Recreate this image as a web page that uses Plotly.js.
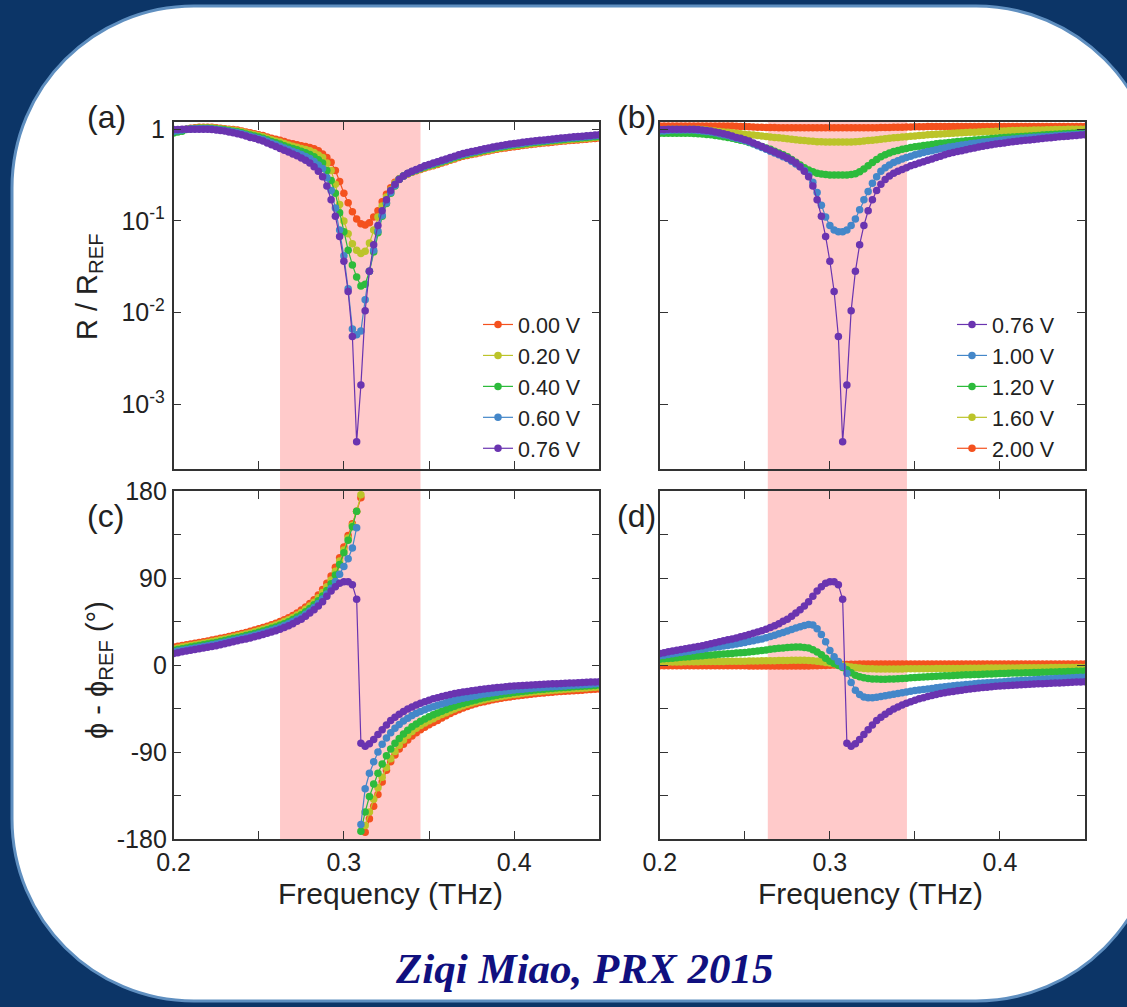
<!DOCTYPE html>
<html><head><meta charset="utf-8">
<script src="https://cdn.plot.ly/plotly-3.0.1.min.js"></script>
<style>html,body{margin:0;padding:0;background:#0c3567;}#chart{width:1127px;height:1007px;}</style>
</head><body><div id="chart"></div>
<script>
// ---------------- DATA ----------------
const freq = [0.2,0.2025,0.205,0.2075,0.21,0.2125,0.215,0.2175,0.22,0.2225,0.225,0.2275,0.23,0.2325,0.235,0.2375,0.24,0.2425,0.245,0.2475,0.25,0.2525,0.255,0.2575,0.26,0.2625,0.265,0.2675,0.27,0.2725,0.275,0.2775,0.28,0.2825,0.285,0.2875,0.29,0.2925,0.295,0.2975,0.3,0.3025,0.305,0.3075,0.31,0.3125,0.315,0.3175,0.32,0.3225,0.325,0.3275,0.33,0.3325,0.335,0.3375,0.34,0.3425,0.345,0.3475,0.35,0.3525,0.355,0.3575,0.36,0.3625,0.365,0.3675,0.37,0.3725,0.375,0.3775,0.38,0.3825,0.385,0.3875,0.39,0.3925,0.395,0.3975,0.4,0.4025,0.405,0.4075,0.41,0.4125,0.415,0.4175,0.42,0.4225,0.425,0.4275,0.43,0.4325,0.435,0.4375,0.44,0.4425,0.445,0.4475,0.45];

const labelsA = ['0.00 V','0.20 V','0.40 V','0.60 V','0.76 V'];
const labelsB = ['0.76 V','1.00 V','1.20 V','1.60 V','2.00 V'];
const xTickVals = [0.2,0.25,0.3,0.35,0.4,0.45];
const xTickText = ['0.2','','0.3','','0.4',''];
const rTickVals = [0.001,0.01,0.1,1];
const rTickText = ['10<sup>-3</sup>','10<sup>-2</sup>','10<sup>-1</sup>','1'];
const pTickVals = [-180,-135,-90,-45,0,45,90,135,180];
const pTickText = ['-180','','-90','','0','','90','','180'];
const shadeA = [0.2625,0.345];
const shadeB = [0.2635,0.3453];

// R / R_REF
const R_000 = [0.933,0.955,0.977,1.0,1.023,1.035,1.047,1.047,1.047,1.047,
1.035,1.023,1.012,1.0,0.989,0.977,0.955,0.933,0.912,0.891,
0.871,0.851,0.822,0.794,0.776,0.759,0.733,0.708,0.692,0.676,
0.661,0.646,0.631,0.610,0.582,0.537,0.490,0.437,0.355,0.269,
0.200,0.158,0.126,0.105,0.0933,0.0902,0.0955,0.110,0.129,0.162,
0.195,0.229,0.263,0.288,0.309,0.324,0.339,0.351,0.363,0.376,
0.389,0.398,0.412,0.427,0.442,0.457,0.473,0.490,0.505,0.516,
0.528,0.541,0.553,0.566,0.579,0.592,0.604,0.614,0.624,0.634,
0.644,0.653,0.662,0.671,0.681,0.689,0.697,0.705,0.713,0.721,
0.729,0.736,0.743,0.750,0.757,0.764,0.771,0.778,0.785,0.792,
0.800];
const R_020 = [0.94,0.955,0.97,1.0,1.017,1.026,1.035,1.035,1.035,1.033,
1.021,1.009,0.998,0.983,0.970,0.956,0.934,0.910,0.887,0.867,
0.845,0.824,0.794,0.765,0.744,0.724,0.697,0.672,0.653,0.635,
0.617,0.599,0.580,0.555,0.523,0.490,0.427,0.355,0.251,0.151,
0.100,0.0724,0.0562,0.0479,0.0442,0.0468,0.0575,0.0794,0.110,0.145,
0.182,0.219,0.257,0.287,0.309,0.326,0.341,0.354,0.367,0.382,
0.395,0.405,0.420,0.435,0.450,0.465,0.482,0.499,0.515,0.526,
0.538,0.551,0.564,0.577,0.590,0.604,0.616,0.627,0.637,0.647,
0.658,0.667,0.676,0.685,0.695,0.703,0.712,0.720,0.728,0.736,
0.745,0.752,0.759,0.767,0.774,0.781,0.788,0.795,0.803,0.810,
0.818];
const R_040 = [0.91,0.93,0.95,0.99,1.012,1.018,1.024,1.024,1.024,1.018,
1.006,0.995,0.984,0.967,0.951,0.934,0.913,0.887,0.863,0.843,
0.819,0.796,0.765,0.735,0.711,0.688,0.661,0.635,0.615,0.595,
0.573,0.552,0.529,0.500,0.465,0.427,0.355,0.275,0.200,0.123,
0.0759,0.0479,0.0331,0.0245,0.0195,0.0204,0.0282,0.0457,0.0741,0.112,
0.155,0.200,0.240,0.285,0.309,0.328,0.343,0.357,0.372,0.387,
0.401,0.413,0.427,0.442,0.458,0.474,0.490,0.508,0.524,0.536,
0.549,0.562,0.575,0.588,0.602,0.615,0.629,0.639,0.650,0.661,
0.671,0.681,0.690,0.700,0.710,0.718,0.726,0.735,0.743,0.752,
0.760,0.768,0.775,0.784,0.791,0.798,0.805,0.813,0.820,0.828,
0.836];
const R_060 = [0.95,0.96,0.98,1.0,1.006,1.009,1.012,1.012,1.012,1.004,
0.992,0.980,0.969,0.950,0.931,0.913,0.892,0.864,0.838,0.818,
0.793,0.769,0.737,0.706,0.679,0.653,0.625,0.599,0.576,0.554,
0.528,0.504,0.478,0.444,0.406,0.372,0.295,0.214,0.138,0.0794,
0.0417,0.0182,0.00661,0.00575,0.00631,0.0138,0.0282,0.0479,0.0776,0.115,
0.158,0.204,0.243,0.284,0.309,0.329,0.345,0.360,0.376,0.393,
0.406,0.420,0.435,0.450,0.465,0.482,0.499,0.516,0.534,0.546,
0.559,0.572,0.585,0.599,0.613,0.627,0.641,0.652,0.663,0.674,
0.685,0.694,0.704,0.714,0.724,0.732,0.741,0.749,0.758,0.767,
0.776,0.784,0.791,0.800,0.807,0.815,0.822,0.830,0.838,0.845,
0.853];
const R_076 = [0.989,0.989,1.0,1.0,1.0,1.0,1.0,1.0,1.0,0.989,
0.977,0.966,0.955,0.933,0.912,0.891,0.871,0.841,0.813,0.794,
0.767,0.741,0.708,0.676,0.646,0.617,0.589,0.562,0.537,0.513,
0.484,0.457,0.427,0.389,0.347,0.302,0.240,0.170,0.112,0.0676,
0.0363,0.0170,0.0055,0.00039,0.00162,0.0105,0.0282,0.0550,0.0891,0.129,
0.170,0.214,0.251,0.282,0.309,0.331,0.347,0.363,0.380,0.398,
0.412,0.427,0.442,0.457,0.473,0.490,0.507,0.525,0.543,0.556,
0.569,0.582,0.596,0.610,0.624,0.638,0.653,0.664,0.676,0.687,
0.698,0.708,0.718,0.728,0.738,0.746,0.755,0.764,0.773,0.782,
0.791,0.800,0.807,0.817,0.824,0.832,0.839,0.847,0.855,0.863,
0.871];
const R_100 = [0.955,0.955,0.966,0.977,0.977,0.977,0.977,0.977,0.977,0.966,
0.955,0.944,0.933,0.912,0.891,0.871,0.851,0.822,0.794,0.776,
0.750,0.724,0.692,0.661,0.631,0.603,0.575,0.550,0.525,0.501,
0.479,0.447,0.417,0.389,0.355,0.316,0.263,0.204,0.148,0.110,
0.0891,0.0794,0.0759,0.0759,0.0794,0.0891,0.105,0.132,0.170,0.209,
0.257,0.302,0.347,0.380,0.407,0.432,0.452,0.473,0.490,0.507,
0.525,0.540,0.555,0.569,0.583,0.597,0.611,0.624,0.637,0.649,
0.661,0.671,0.682,0.693,0.703,0.713,0.723,0.731,0.740,0.748,
0.757,0.766,0.773,0.780,0.787,0.794,0.802,0.809,0.817,0.822,
0.828,0.834,0.839,0.845,0.851,0.857,0.863,0.869,0.875,0.881,
0.887];
const R_120 = [0.902,0.902,0.902,0.902,0.902,0.902,0.902,0.902,0.897,0.891,
0.885,0.877,0.867,0.855,0.841,0.828,0.813,0.794,0.776,0.759,
0.741,0.716,0.692,0.668,0.646,0.624,0.603,0.575,0.550,0.525,
0.501,0.468,0.437,0.407,0.380,0.359,0.343,0.331,0.324,0.320,
0.316,0.316,0.316,0.316,0.316,0.320,0.327,0.343,0.367,0.398,
0.432,0.468,0.501,0.525,0.550,0.569,0.586,0.603,0.617,0.631,
0.643,0.653,0.664,0.673,0.682,0.692,0.700,0.708,0.716,0.724,
0.733,0.740,0.746,0.753,0.760,0.767,0.774,0.782,0.789,0.796,
0.804,0.809,0.815,0.820,0.826,0.832,0.838,0.843,0.849,0.855,
0.861,0.867,0.873,0.879,0.885,0.891,0.897,0.904,0.910,0.916,
0.923];
const R_160 = [0.989,0.989,1.0,1.0,1.0,1.0,1.0,1.0,1.0,1.0,
0.989,0.977,0.966,0.955,0.944,0.933,0.923,0.912,0.902,0.891,
0.881,0.871,0.861,0.851,0.841,0.832,0.822,0.813,0.804,0.794,
0.785,0.776,0.767,0.759,0.750,0.741,0.736,0.731,0.728,0.724,
0.724,0.724,0.724,0.724,0.724,0.724,0.728,0.733,0.741,0.750,
0.759,0.767,0.776,0.785,0.794,0.804,0.813,0.820,0.828,0.836,
0.843,0.851,0.859,0.867,0.873,0.879,0.885,0.891,0.897,0.904,
0.910,0.914,0.918,0.923,0.927,0.931,0.935,0.940,0.944,0.948,
0.953,0.957,0.962,0.966,0.968,0.971,0.973,0.975,0.977,0.979,
0.982,0.984,0.986,0.989,0.991,0.993,0.995,0.998,1.0,1.0,
1.0];
const R_200 = [1.084,1.084,1.084,1.084,1.084,1.084,1.084,1.084,1.084,1.084,
1.084,1.084,1.084,1.084,1.084,1.084,1.084,1.081,1.076,1.072,
1.067,1.062,1.057,1.052,1.047,1.045,1.042,1.040,1.038,1.035,
1.035,1.035,1.035,1.035,1.035,1.035,1.035,1.035,1.035,1.035,
1.035,1.035,1.035,1.035,1.035,1.035,1.035,1.035,1.035,1.035,
1.035,1.038,1.040,1.042,1.045,1.047,1.050,1.052,1.054,1.057,
1.059,1.062,1.064,1.067,1.072,1.072,1.072,1.072,1.072,1.072,
1.072,1.072,1.072,1.072,1.072,1.072,1.072,1.072,1.072,1.072,
1.072,1.072,1.072,1.072,1.072,1.072,1.072,1.072,1.072,1.072,
1.072,1.072,1.072,1.072,1.072,1.072,1.072,1.072,1.072,1.072,
1.072];

// phase (deg)
const P_000 = [18.5,19.3,20.1,20.9,21.7,22.5,23.3,24.1,24.9,25.8,
26.7,27.6,28.5,29.5,30.5,31.5,32.6,33.7,34.9,36.1,
37.4,38.7,40.1,41.6,43.2,45,46.9,49,51.3,53.9,
56.8,60,63.5,67.6,72.4,78,84.5,92,101,111,
122,134,146,159,173,-173,-159,-146,-134,-121,
-109,-100,-93,-87,-82,-77.5,-73.5,-70,-67,-64.3,
-61.8,-59.5,-57.3,-54.8,-52.5,-50.3,-48.2,-46.3,-44.5,-42.9,
-41.4,-40,-38.9,-37.9,-36.9,-36,-35.2,-34.4,-33.7,-33,
-32.4,-31.8,-31.2,-30.7,-30.2,-29.7,-29.3,-28.9,-28.5,-28.1,
-27.8,-27.5,-27.2,-26.9,-26.6,-26.3,-26,-25.7,-25.4,-25.1,
-24.8];
const P_020 = [16.9,17.7,18.5,19.3,20.1,20.9,21.7,22.5,23.3,24.2,
25,26,26.9,27.9,28.9,29.9,31,32,33.2,34.4,
35.6,36.9,38.3,39.7,41.3,43,44.9,46.9,49.2,51.7,
54.4,57.6,61.1,65,69.6,74.9,81,88,97,107.5,
119,131.5,144.5,159,176,-166,-152,-139,-127,-116,
-106,-97,-89.5,-83,-77.5,-72.7,-68.7,-65.5,-62.6,-60,
-57.6,-55.5,-53.4,-51.3,-49.3,-47.3,-45.5,-43.8,-42.2,-40.7,
-39.4,-38.1,-37,-36,-35,-34.1,-33.3,-32.5,-31.8,-31.1,
-30.5,-29.9,-29.3,-28.8,-28.3,-27.8,-27.4,-27,-26.6,-26.2,
-25.8,-25.5,-25.2,-24.9,-24.6,-24.3,-24,-23.7,-23.4,-23.1,
-22.8];
const P_040 = [15.3,16.1,16.9,17.7,18.5,19.3,20.1,20.9,21.7,22.5,
23.4,24.3,25.3,26.3,27.3,28.3,29.3,30.4,31.5,32.6,
33.9,35.1,36.5,37.9,39.4,41,42.8,44.8,47.1,49.6,
52,55,58.5,62.3,66.5,71.3,77,84,93,104,
116,129,143,159,-172,-152,-136,-123,-112,-102.5,
-94,-87,-81,-76,-71.5,-67.5,-64,-61,-58.3,-55.8,
-53.5,-51.5,-49.6,-47.8,-46,-44.3,-42.7,-41.2,-39.8,-38.5,
-37.3,-36.1,-35,-34,-33,-32.1,-31.3,-30.5,-29.8,-29.1,
-28.5,-27.9,-27.3,-26.8,-26.3,-25.8,-25.4,-25,-24.6,-24.2,
-23.8,-23.5,-23.2,-22.9,-22.6,-22.3,-22,-21.7,-21.4,-21.1,
-20.8];
const P_060 = [13.6,14.4,15.2,16,16.8,17.6,18.4,19.2,20,20.9,
21.7,22.7,23.6,24.6,25.6,26.6,27.7,28.7,29.7,30.9,
32.1,33.3,34.6,36,37.4,39,40.8,42.7,44.9,47.4,
49.5,52.5,55.8,59.5,63.6,68.2,73.5,79.5,86.5,94,
102,110,121,142,-165,-128,-112,-100,-90,-82,
-75.5,-70,-65.5,-61.5,-58,-55,-52.3,-50,-48,-46.2,
-44.6,-43.1,-41.7,-40.3,-39,-37.8,-36.6,-35.5,-34.5,-33.5,
-32.6,-31.7,-30.9,-30.1,-29.4,-28.7,-28.1,-27.5,-26.9,-26.4,
-25.9,-25.4,-25,-24.6,-24.2,-23.8,-23.5,-23.1,-22.8,-22.5,
-22.2,-21.9,-21.6,-21.3,-21,-20.7,-20.4,-20.1,-19.8,-19.5,
-19.2];
const P_076 = [12,12.8,13.6,14.4,15.2,16,16.8,17.6,18.4,19.2,
20,21,22,23,24,25,26,27,28,29.1,
30.3,31.5,32.8,34.1,35.5,37,38.7,40.6,42.8,45.2,
47.3,50.4,53.7,57.2,61,65.5,71,76.5,81,84.5,
86,86,83,68,-81,-84,-81.5,-77,-72,-67,
-62,-57.5,-54,-51,-48,-45.5,-43.5,-41.5,-39.5,-38,
-36.5,-35,-33.8,-32.6,-31.5,-30.5,-29.6,-28.8,-28,-27.3,
-26.6,-26,-25.4,-24.8,-24.3,-23.8,-23.3,-22.9,-22.5,-22.1,
-21.8,-21.5,-21.2,-20.9,-20.6,-20.4,-20.1,-19.9,-19.7,-19.5,
-19.3,-19.1,-18.9,-18.7,-18.5,-18.3,-18.1,-17.9,-17.7,-17.5,
-17.3];
const P_100 = [9.5,10.2,10.9,11.6,12.3,13,13.6,14.3,15,15.7,
16.4,17.1,17.8,18.4,19,19.7,20.3,21,21.7,22.5,
23.3,24.2,25.1,26,27,28.2,29.5,30.9,32.3,33.7,
35.2,36.7,38.2,39.6,40.8,41.8,41.5,37.5,31.5,24,
15,8.5,3.5,-1.5,-8.5,-18,-26,-30.5,-33,-33.8,
-33.8,-33.3,-32.6,-31.9,-31.1,-30.3,-29.5,-28.7,-27.9,-27.2,
-26.5,-25.9,-25.3,-24.7,-24.2,-23.6,-23,-22.5,-22,-21.5,
-21,-20.6,-20.2,-19.8,-19.4,-19,-18.7,-18.4,-18.1,-17.8,
-17.5,-17.2,-16.9,-16.6,-16.3,-16,-15.7,-15.5,-15.2,-15,
-14.7,-14.5,-14.2,-14,-13.8,-13.6,-13.4,-13.2,-13,-12.8,
-12.6];
const P_120 = [6,6.4,6.8,7.1,7.5,7.9,8.3,8.6,9,9.3,
9.6,10,10.3,10.7,11,11.4,11.7,12,12.3,12.7,
13,13.5,14,14.5,15,15.6,16.2,16.7,17.2,17.6,
18,18.3,18.5,18.5,18.2,17.5,15.8,13.5,10.5,7,
4,1.5,-0.5,-2.5,-5,-8,-10.5,-12.2,-13.3,-14,
-14.4,-14.6,-14.7,-14.7,-14.6,-14.4,-14.2,-13.9,-13.6,-13.3,
-13,-12.7,-12.5,-12.2,-11.9,-11.7,-11.5,-11.2,-11,-10.8,
-10.6,-10.4,-10.2,-10,-9.8,-9.7,-9.5,-9.3,-9.2,-9,
-8.9,-8.7,-8.6,-8.4,-8.3,-8.2,-8,-7.9,-7.8,-7.7,
-7.5,-7.4,-7.3,-7.2,-7,-6.9,-6.8,-6.7,-6.5,-6.4,
-6.3];
const P_160 = [3,3,3.1,3.1,3.2,3.2,3.3,3.3,3.4,3.4,
3.5,3.5,3.6,3.6,3.7,3.7,3.8,3.8,3.9,3.9,
4,4.1,4.2,4.2,4.3,4.4,4.5,4.5,4.6,4.7,
4.7,4.8,4.8,4.8,4.8,4.6,4.3,3.9,3.3,2.7,
2,1.3,0.5,-0.3,-1.2,-2,-2.6,-3.1,-3.5,-3.8,
-4,-4.1,-4.2,-4.2,-4.2,-4.2,-4.1,-4.1,-4,-4,
-3.9,-3.9,-3.8,-3.8,-3.8,-3.7,-3.7,-3.6,-3.6,-3.5,
-3.5,-3.5,-3.4,-3.4,-3.3,-3.3,-3.3,-3.2,-3.2,-3.1,
-3.1,-3.1,-3,-3,-3,-2.9,-2.9,-2.9,-2.8,-2.8,
-2.8,-2.8,-2.7,-2.7,-2.7,-2.6,-2.6,-2.6,-2.5,-2.5,
-2.5];
const P_200 = [-0.8,-0.8,-0.8,-0.8,-0.8,-0.8,-0.8,-0.8,-0.8,-0.8,
-0.8,-0.8,-0.8,-0.8,-0.8,-0.8,-0.8,-0.8,-0.8,-0.8,
-0.8,-1,-1,-1,-1,-1,-1,-1,-1,-1,
-1,-1,-1,-1,-1,-1,-0.9,-0.8,-0.6,-0.4,
-0.2,0,0.2,0.4,0.6,0.8,0.9,1,1,1,
1,1,1,1,1,1,1,1,1,1,
1,1,1,1,1,1,1,1,1,1,
1,1,1,1,1,1,1,1,1,1,
1,1,1,1,1,1,1,1,1,1,
1,1,1,1,1,1,1,1,1,1,
1];

// ---------------- STYLE ----------------
const W = 1127, H = 1007;
const FONT = 'Liberation Sans, Arial, Helvetica, sans-serif';
const TXT = '#222222';
const C = {o:'#f4511e', y:'#bcc42a', g:'#2dbb3c', b:'#4487c9', p:'#6a34b0'};
const px = x => x / W;
const py = y => 1 - y / H;

const dom = {
  xL:[px(173.6), px(599.3)], xR:[px(659.8), px(1085)],
  yT:[py(469), py(122)], yB:[py(839), py(491)]
};

function segments(xs, ys) {
  const out = []; let cx = [xs[0]], cy = [ys[0]];
  for (let i = 1; i < ys.length; i++) {
    if (Math.abs(ys[i] - ys[i-1]) > 200) { out.push([cx, cy]); cx = []; cy = []; }
    cx.push(xs[i]); cy.push(ys[i]);
  }
  out.push([cx, cy]);
  return out;
}

const traces = [];
function addTrace(ys, color, name, xa, ya, legend, show, split) {
  const segs = split ? segments(freq, ys) : [[freq, ys]];
  segs.forEach((s, k) => {
    traces.push({
      x: s[0], y: s[1], xaxis: xa, yaxis: ya, type: 'scatter', mode: 'lines+markers',
      name: name, legend: legend, showlegend: show && k === 0, legendgroup: xa + name,
      line: {color: color, width: 1.2}, marker: {color: color, size: 7.5},
      hoverinfo: 'x+y+name'
    });
  });
}

// (a)
[[R_000,C.o],[R_020,C.y],[R_040,C.g],[R_060,C.b],[R_076,C.p]].forEach((d,i)=>
  addTrace(d[0], d[1], labelsA[i], 'x', 'y', 'legend', true, false));
// (b) drawn from 2.00 V to 0.76 V, legend reversed
[[R_200,C.o,4],[R_160,C.y,3],[R_120,C.g,2],[R_100,C.b,1],[R_076,C.p,0]].forEach(d=>
  addTrace(d[0], d[1], labelsB[d[2]], 'x2', 'y2', 'legend2', true, false));
// (c)
[[P_000,C.o],[P_020,C.y],[P_040,C.g],[P_060,C.b],[P_076,C.p]].forEach((d,i)=>
  addTrace(d[0], d[1], labelsA[i], 'x3', 'y3', 'legend', false, true));
// (d)
[[P_200,C.o,4],[P_160,C.y,3],[P_120,C.g,2],[P_100,C.b,1],[P_076,C.p,0]].forEach(d=>
  addTrace(d[0], d[1], labelsB[d[2]], 'x4', 'y4', 'legend2', false, true));

const axBase = {
  showline: true, linecolor: '#333', linewidth: 1.5, mirror: 'ticks',
  ticks: 'inside', ticklen: 8, tickwidth: 1.3, tickcolor: '#333',
  showgrid: false, zeroline: false, fixedrange: true,
  tickfont: {family: FONT, size: 25, color: TXT}
};
const xAx = (d, anchor, labels) => Object.assign({}, axBase, {
  domain: d, anchor: anchor, range: [0.2, 0.45], tickmode: 'array',
  tickvals: xTickVals, ticktext: xTickText, showticklabels: labels
});
const yR = (d, anchor, labels) => Object.assign({}, axBase, {
  domain: d, anchor: anchor, type: 'log', range: [-3.705, 0.078], tickmode: 'array',
  tickvals: rTickVals, ticktext: rTickText, showticklabels: labels, ticklabelstandoff: 2
});
const yP = (d, anchor, labels) => Object.assign({}, axBase, {
  domain: d, anchor: anchor, range: [-180, 180], tickmode: 'array',
  tickvals: pTickVals, ticktext: pTickText, showticklabels: labels, ticklabelstandoff: 0
});

// rounded white panel
function roundRect(x0, y0, x1, y1, r) {
  const k = 0.5523 * r;
  const P = (x, y) => px(x) + ',' + py(y);
  return 'M' + P(x0 + r, y0) + ' L' + P(x1 - r, y0) +
    ' C' + P(x1 - r + k, y0) + ' ' + P(x1, y0 + r - k) + ' ' + P(x1, y0 + r) +
    ' L' + P(x1, y1 - r) +
    ' C' + P(x1, y1 - r + k) + ' ' + P(x1 - r + k, y1) + ' ' + P(x1 - r, y1) +
    ' L' + P(x0 + r, y1) +
    ' C' + P(x0 + r - k, y1) + ' ' + P(x0, y1 - r + k) + ' ' + P(x0, y1 - r) +
    ' L' + P(x0, y0 + r) +
    ' C' + P(x0, y0 + r - k) + ' ' + P(x0 + r - k, y0) + ' ' + P(x0 + r, y0) + ' Z';
}

const shapes = [
  {type: 'path', xref: 'paper', yref: 'paper', path: roundRect(12, 6, 1158, 1001, 182),
   fillcolor: '#ffffff', line: {color: '#5f8fc0', width: 3}, layer: 'below'},
  {type: 'rect', xref: 'x', yref: 'paper', x0: shadeA[0], x1: shadeA[1], y0: py(839), y1: py(122),
   fillcolor: '#ffcaca', line: {width: 0}, layer: 'below'},
  {type: 'rect', xref: 'x2', yref: 'paper', x0: shadeB[0], x1: shadeB[1], y0: py(839), y1: py(122),
   fillcolor: '#ffcaca', line: {width: 0}, layer: 'below'}
];

const ann = (text, x, y, size, extra) => Object.assign({
  text: text, xref: 'paper', yref: 'paper', x: px(x), y: py(y), showarrow: false,
  xanchor: 'center', yanchor: 'middle', font: {family: FONT, size: size, color: TXT}
}, extra || {});

const annotations = [
  ann('(a)', 106, 117, 32), ann('(b)', 636, 117, 32),
  ann('(c)', 105, 516, 32), ann('(d)', 636, 516, 32),
  ann('R / R<sub>REF</sub>', 89, 287, 29, {textangle: -90}),
  ann('ϕ - ϕ<sub>REF</sub> (°)', 99, 670, 29, {textangle: -90}),
  ann('Frequency (THz)', 390, 893, 30),
  ann('Frequency (THz)', 870, 893, 30),
  ann('<b><i>Ziqi Miao, PRX 2015</i></b>', 584, 968, 43,
      {font: {family: 'Liberation Serif, Times New Roman, serif', size: 43, color: '#10107f'}})
];

const legendBase = {
  xanchor: 'left', yanchor: 'top', bgcolor: 'rgba(0,0,0,0)', borderwidth: 0,
  font: {family: FONT, size: 21.5, color: TXT}, tracegroupgap: 0, itemclick: false, itemdoubleclick: false
};

const layout = {
  width: W, height: H, margin: {l: 0, r: 0, t: 0, b: 0},
  paper_bgcolor: '#0c3567', plot_bgcolor: 'rgba(0,0,0,0)',
  xaxis: xAx(dom.xL, 'y', false), yaxis: yR(dom.yT, 'x', true),
  xaxis2: xAx(dom.xR, 'y2', false), yaxis2: yR(dom.yT, 'x2', false),
  xaxis3: xAx(dom.xL, 'y3', true), yaxis3: yP(dom.yB, 'x3', true),
  xaxis4: xAx(dom.xR, 'y4', true), yaxis4: yP(dom.yB, 'x4', false),
  legend: Object.assign({}, legendBase, {x: px(478), y: py(304)}),
  legend2: Object.assign({}, legendBase, {x: px(952), y: py(304), traceorder: 'reversed'}),
  shapes: shapes, annotations: annotations, hovermode: 'closest'
};

Plotly.newPlot('chart', traces, layout, {displayModeBar: false, responsive: false});
</script>
</body></html>
